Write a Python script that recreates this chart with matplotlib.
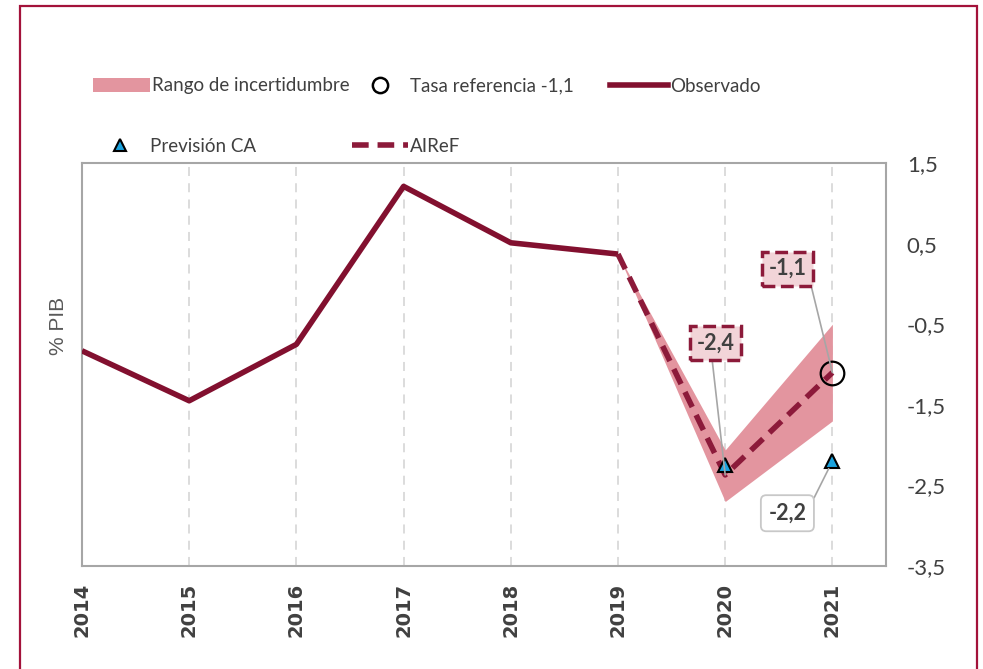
import matplotlib
matplotlib.use("Agg")
import matplotlib.pyplot as plt
from matplotlib.patches import Rectangle, Patch
from matplotlib.lines import Line2D

# data
years = [2014, 2015, 2016, 2017, 2018, 2019, 2020, 2021]
observado = [-0.83, -1.45, -0.75, 1.21, 0.51, 0.37]
airef_years = [2019, 2020, 2021]
airef = [0.37, -2.37, -1.1]
rango_low = [0.37, -2.7, -1.7]
rango_high = [0.37, -2.06, -0.5]
prevision_years = [2020, 2021]
prevision_ca = [-2.25, -2.2]
tasa_ref_year = 2021
tasa_ref = -1.1
ytick_vals = [-3.5, -2.5, -1.5, -0.5, 0.5, 1.5]

W, H = 983, 669
DARK = "#82102f"
AIREF_C = "#8c1a3a"
BAND = "#e3959f"
TRI = "#1ba3de"
GRAY_TXT = "#404040"
FONT = ["Lato", "DejaVu Sans"]
LEG_SIZE = 13.5
EM = LEG_SIZE * 100 / 72  # pixels per em


def fmt(v):
    return f"{v:.1f}".replace(".", ",")


fig = plt.figure(figsize=(W / 100, H / 100), dpi=100)
fig.patches.append(Rectangle((20 / W, -0.1), (977 - 20) / W, 1.1 - 6 / H,
                             transform=fig.transFigure, fill=False,
                             edgecolor="#a3123a", lw=1.6))

ax = fig.add_axes([82 / W, 1 - 566 / H, (886 - 82) / W, (566 - 163) / H])
ax.set_xlim(2014, 2021.5)
ax.set_ylim(-3.5, 1.5)

for yr in years[1:]:
    ax.axvline(yr, color="#d9d9d9", lw=1.3, dashes=(5, 4), zorder=0)

ax.fill_between(airef_years, rango_low, rango_high, color=BAND, lw=0, zorder=1)
ax.plot(years[:len(observado)], observado, color=DARK, lw=4, solid_capstyle="butt", zorder=3)
ax.plot(airef_years, airef, color=AIREF_C, lw=4, dashes=(3, 1.6), zorder=4)
ax.plot(prevision_years, prevision_ca, ls="none", marker="^", ms=10,
        mfc=TRI, mec="black", mew=1.5, zorder=5)
ax.plot([tasa_ref_year], [tasa_ref], ls="none", marker="o", ms=17,
        mfc="none", mec="black", mew=1.6, zorder=6)

for s in ax.spines.values():
    s.set_color("#a6a6a6")
    s.set_linewidth(1.5)

ax.set_xticks(years)
ax.set_xticklabels([str(y) for y in years], rotation=90, fontsize=14,
                   color=GRAY_TXT, fontweight="bold", family="DejaVu Sans")
ax.tick_params(axis="x", length=0, pad=12)
ax.yaxis.tick_right()
ax.set_yticks(ytick_vals)
ax.set_yticklabels([fmt(v) for v in ytick_vals], fontsize=16, color=GRAY_TXT, family=FONT)
ax.tick_params(axis="y", length=0, pad=15)

ax.set_ylabel("% PIB", fontsize=15, color="#595959", family="Liberation Sans")
ax.yaxis.set_label_coords(-0.017, 0.595)

# labels
label_kw = dict(textcoords="offset pixels", ha="center", va="center",
                fontsize=15.5, fontweight="bold", color=GRAY_TXT, family=FONT, zorder=7)
ax.annotate(fmt(airef[1]), xy=(airef_years[1], airef[1]), xytext=(-10, 132),
            bbox=dict(boxstyle="square,pad=0.3", fc="#f2d4d8", ec=AIREF_C, ls="--", lw=2.5),
            arrowprops=dict(arrowstyle="-", color="#a6a6a6", lw=1.2, relpos=(0.4, 0),
                            shrinkA=0, shrinkB=0), **label_kw)
ax.annotate(fmt(tasa_ref), xy=(tasa_ref_year, tasa_ref), xytext=(-45, 104),
            bbox=dict(boxstyle="square,pad=0.3", fc="#f2d4d8", ec=AIREF_C, ls="--", lw=2.5),
            arrowprops=dict(arrowstyle="-", color="#a6a6a6", lw=1.2, relpos=(1, 0.6),
                            shrinkA=0, shrinkB=0), **label_kw)
ax.annotate(fmt(prevision_ca[1]), xy=(prevision_years[1], prevision_ca[1]), xytext=(-45, -52),
            bbox=dict(boxstyle="round,pad=0.35,rounding_size=0.25", fc="white", ec="#c8c8c8", lw=1.3),
            arrowprops=dict(arrowstyle="-", color="#a6a6a6", lw=1.2, relpos=(1, 0.5),
                            shrinkA=0, shrinkB=6), **label_kw)


# legend entries placed one by one (x_px = left of handle, widths in pixels)
def add_legend(handle, label, x_px, y_px, hl_px, text_px):
    fig.legend([handle], [label], loc="center left",
               bbox_to_anchor=(x_px / W, 1 - y_px / H), frameon=False,
               handlelength=hl_px / EM, handletextpad=(text_px - x_px - hl_px) / EM,
               borderpad=0, borderaxespad=0,
               prop=dict(family=FONT, size=LEG_SIZE), labelcolor=GRAY_TXT)


add_legend(Patch(fc=BAND, ec="none"), "Rango de incertidumbre", 93, 86, 57, 152)
add_legend(Line2D([], [], ls="none", marker="o", ms=11, mfc="none", mec="black", mew=1.8),
           "Tasa referencia " + fmt(tasa_ref), 370, 86, 20, 410)
add_legend(Line2D([], [], color=DARK, lw=4), "Observado", 610, 86, 58, 670)
add_legend(Line2D([], [], ls="none", marker="^", ms=9, mfc=TRI, mec="black", mew=1.5),
           "Previsión CA", 108, 146, 24, 150)
add_legend(Line2D([], [], color=AIREF_C, lw=4, dashes=(3, 1.6)), "AIReF", 352, 146, 56, 410)

fig.savefig("out.png", dpi=100)
